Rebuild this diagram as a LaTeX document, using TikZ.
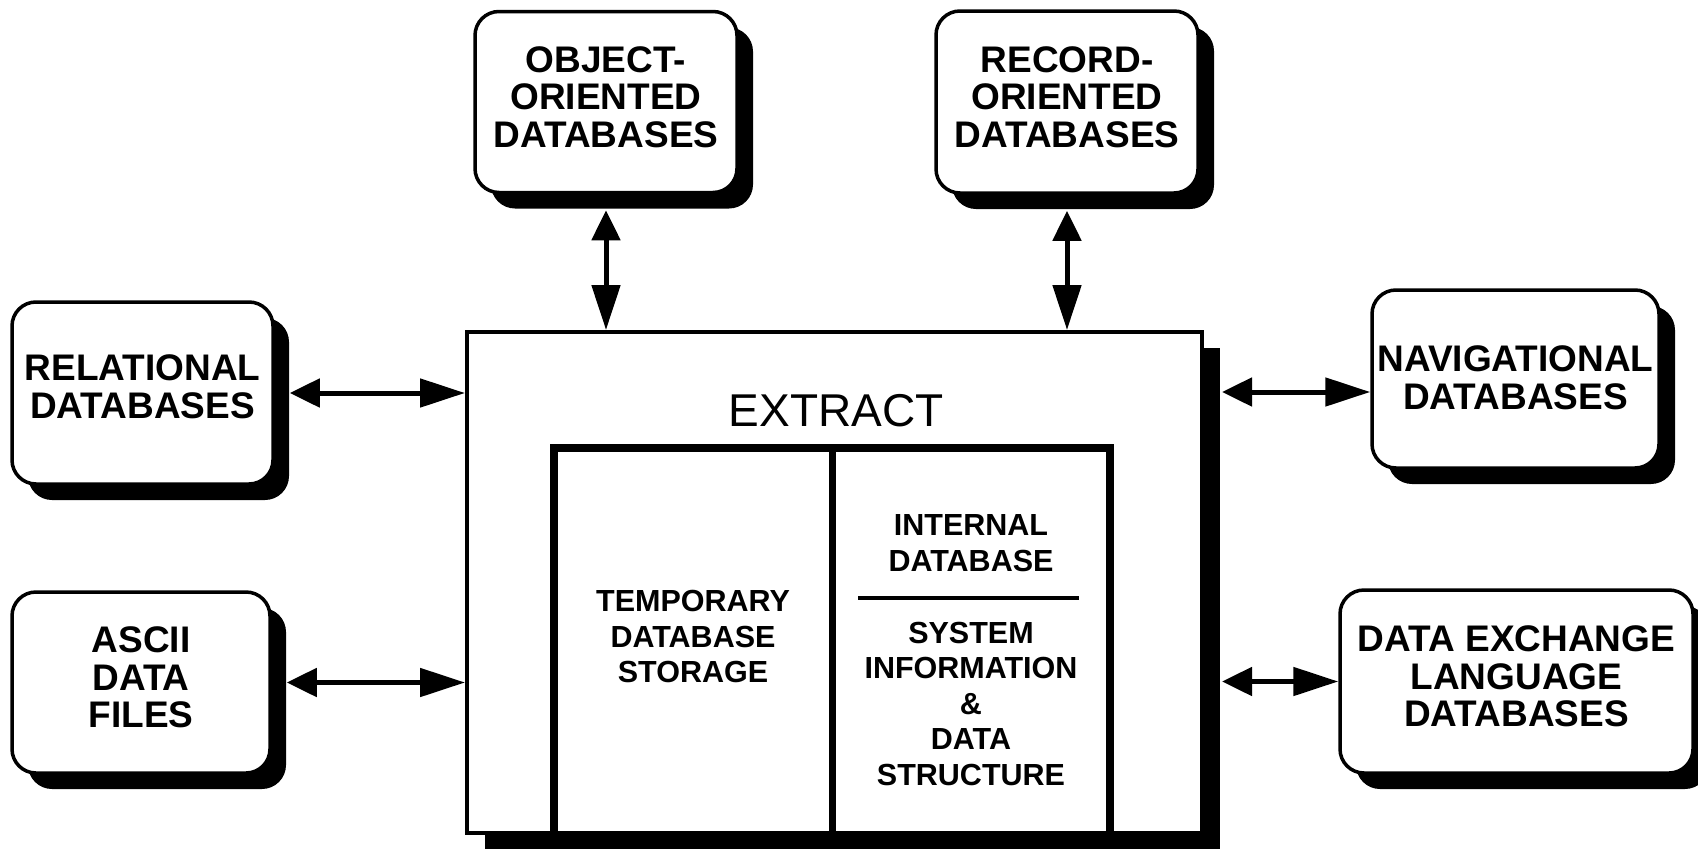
\documentclass[tikz,border=0pt]{standalone}
\usepackage{fontspec}
\setmainfont{Liberation Sans}
\usetikzlibrary{arrows.meta,shadows,calc}
\begin{document}
\begin{tikzpicture}[x=1pt,y=-1pt,
  dbbox/.style={draw, line width=3.5pt, rounded corners=24pt, fill=white,
    drop shadow={shadow xshift=16pt, shadow yshift=-16pt, fill=black, opacity=1}},
  mainbox/.style={draw, line width=4pt, fill=white,
    drop shadow={shadow xshift=18pt, shadow yshift=-16pt, fill=black, opacity=1}},
  dbtext/.style={align=center, font=\fontsize{37}{37.5}\selectfont\bfseries, inner sep=0pt},
  intext/.style={align=center, font=\fontsize{30.5}{35.5}\selectfont\bfseries, inner sep=0pt},
  conn/.style={line width=5pt, {Triangle[length=30pt,width=28pt]}-{Triangle[length=45pt,width=28pt]}}
]
\useasboundingbox (0,0) rectangle (1698,849);

% outer database boxes
\node[dbbox, minimum width=262pt, minimum height=181pt] (obj) at (606,102) {};
\node[dbbox, minimum width=262pt, minimum height=182pt] (rec) at (1067,102) {};
\node[dbbox, minimum width=261pt, minimum height=182pt] (rel) at (142.5,393) {};
\node[dbbox, minimum width=258pt, minimum height=181pt] (ascii) at (141,682.5) {};
\node[dbbox, minimum width=287pt, minimum height=178pt] (nav) at (1515.5,379) {};
\node[dbbox, minimum width=353pt, minimum height=183pt] (dx) at (1516.5,681.5) {};

\node[dbtext] (objT) at ($(obj.center)+(0,-5)$) {OBJECT-\\ORIENTED\\DATABASES};
\node[dbtext] (recT) at ($(rec.center)+(0,-5)$) {RECORD-\\ORIENTED\\DATABASES};
\node[dbtext] (relT) at ($(rel.center)+(0,-6)$) {RELATIONAL\\DATABASES};
\node[dbtext] (asciiT) at ($(ascii.center)+(0,-5)$) {ASCII\\DATA\\FILES};
\node[dbtext] (navT) at ($(nav.center)+(0,-1)$) {NAVIGATIONAL\\DATABASES};
\node[dbtext] (dxT) at ($(dx.center)+(0,-5)$) {DATA EXCHANGE\\LANGUAGE\\DATABASES};

% main EXTRACT box
\node[mainbox, minimum width=735pt, minimum height=501pt] (main) at (834.5,582.5) {};
\node[font=\fontsize{46}{46}\selectfont, inner sep=0pt] (extract) at (836,411) {EXTRACT};

% inner box
\node[inner sep=0pt, minimum width=556pt, minimum height=385pt] (inner) at (832,640.5) {};
\draw[line width=8pt, line join=miter] (inner.south west) -- (inner.north west) -- (inner.north east) -- (inner.south east);
\draw[line width=7pt] (inner.north) -- (inner.south);

\node[intext] (tmp) at (693,636.5) {TEMPORARY\\DATABASE\\STORAGE};
\node[intext] (idb) at (971,543) {INTERNAL\\DATABASE};
\draw[line width=3.5pt] (858,598) -- (1079,598);
\node[intext] (sys) at (971,703.5) {SYSTEM\\INFORMATION\\\&\\DATA\\STRUCTURE};

% connectors
\draw[conn] ($(obj.south)+(0,16)$) -- (obj.south |- main.north);
\draw[conn] ($(rec.south)+(0,16)$) -- (rec.south |- main.north);
\draw[conn] ($(rel.east)+(15,0)$) -- (main.west |- rel.east);
\draw[conn] ($(ascii.east)+(15,0)$) -- (main.west |- ascii.east);
\draw[conn] ($(main.east |- nav.west)+(18,13)$) -- ($(nav.west)+(0,13)$);
\draw[conn] ($(main.east |- dx.west)+(18,0)$) -- (dx.west);
\end{tikzpicture}
\end{document}
